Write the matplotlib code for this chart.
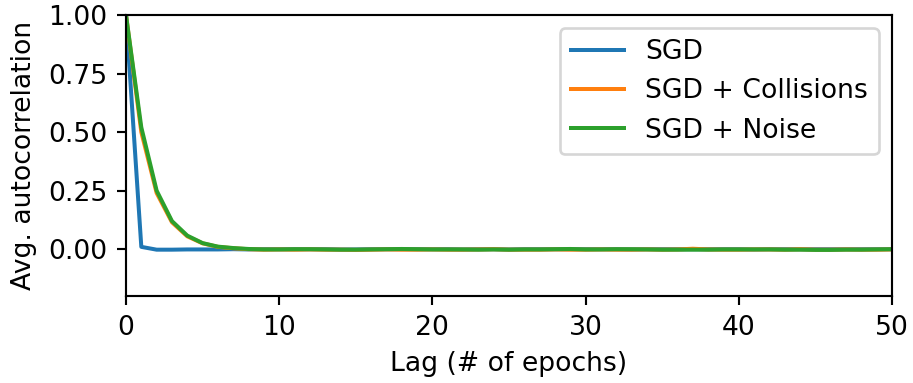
import numpy as np
import matplotlib
matplotlib.use("Agg")
import matplotlib.pyplot as plt

# lag 0..50
lags = list(range(51))

sgd = [1.0, 0.010, -0.002, -0.002, -0.001, -0.001, -0.001, 0.000, -0.001, 0.000,
       0.000, 0.000, 0.000, 0.000, -0.001, -0.001, 0.000, 0.000, 0.000, 0.000,
       0.000, 0.000, -0.001, 0.000, 0.000, -0.001, 0.000, 0.000, 0.000, 0.000,
       0.000, 0.000, 0.000, -0.001, 0.000, 0.000, 0.000, 0.000, 0.000, 0.000,
       0.000, -0.001, 0.000, 0.000, 0.000, 0.000, 0.000, 0.000, 0.000, 0.000,
       0.000]

collisions = [1.0, 0.500, 0.240, 0.115, 0.055, 0.025, 0.010, 0.004, 0.000, -0.002,
              -0.001, -0.002, -0.001, -0.002, -0.002, -0.003, -0.002, -0.001, -0.002, -0.002,
              -0.001, -0.002, -0.002, -0.001, 0.000, -0.002, -0.002, -0.002, -0.001, -0.002,
              -0.002, -0.001, -0.002, -0.002, -0.001, -0.002, -0.001, 0.002, -0.001, -0.002,
              -0.002, -0.001, -0.001, -0.002, 0.000, -0.002, -0.002, -0.001, -0.002, -0.002,
              -0.001]

noise = [1.0, 0.520, 0.250, 0.120, 0.058, 0.026, 0.011, 0.005, 0.001, -0.001,
         -0.001, 0.000, 0.000, -0.001, -0.002, -0.002, -0.001, 0.000, 0.001, 0.000,
         -0.001, -0.001, -0.001, -0.002, -0.001, -0.002, -0.001, -0.001, 0.000, 0.001,
         -0.001, -0.001, 0.000, 0.000, -0.001, -0.002, -0.002, -0.002, -0.002, -0.001,
         -0.001, -0.001, -0.001, -0.002, -0.002, -0.003, -0.003, -0.002, -0.002, -0.001,
         0.000]

labels = ["SGD", "SGD + Collisions", "SGD + Noise"]
colors = ["#1f77b4", "#ff7f0e", "#2ca02c"]

dpi = 192
fig = plt.figure(figsize=(913 / dpi, 383 / dpi), dpi=dpi)
ax = fig.add_axes([0.138, 0.227, 0.839, 0.734])

for series, lab, col in zip([sgd, collisions, noise], labels, colors):
    ax.plot(lags, series, color=col, label=lab, linewidth=1.5)

ax.set_xlim(0, 50)
ax.set_ylim(-0.2, 1.0)
ax.set_yticks([0.0, 0.25, 0.5, 0.75, 1.0])
ax.set_xticks([0, 10, 20, 30, 40, 50])
ax.set_xlabel("Lag (# of epochs)")
ax.set_ylabel("Avg. autocorrelation")
ax.legend(loc="upper right")

fig.savefig("out.png", dpi=dpi)
